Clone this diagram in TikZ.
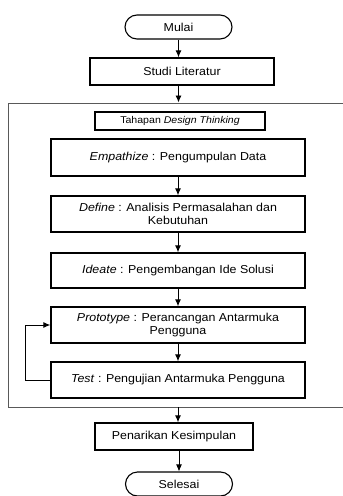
\documentclass[tikz,border=0pt]{standalone}
\usepackage{fontspec}
\setmainfont{Liberation Sans}[FakeStretch=1.08]
\usepackage{tikz}
\usetikzlibrary{arrows.meta}

\begin{document}
\begin{tikzpicture}[x=1pt, y=-1pt,
	every node/.style={font=\fontsize{11.5}{12.5}\selectfont},
	terminal/.style={draw, line width=1.1pt, rounded corners=12pt, minimum width=107pt, minimum height=24pt},
	proses/.style={draw, line width=1.4pt, minimum width=254pt, minimum height=36pt, align=center, inner sep=1pt},
	panah/.style={-{Latex[length=7pt,width=6pt]}, line width=0.9pt}
]
\clip (0,0) rectangle (343,496);
\node[terminal] (mulai) at (178.5,27) {Mulai};
\node[proses, minimum width=184pt, minimum height=27pt] (studi) at (182,71.5) {Studi Literatur};
\node[draw=black!65, line width=0.9pt, minimum width=352pt, minimum height=304pt, anchor=north west] (fase) at (8,102.5) {};
\node[draw, line width=1.1pt, minimum width=170pt, minimum height=18pt, font=\fontsize{9.8}{11}\selectfont] (judul) at (180,121) {Tahapan \textit{Design Thinking}};
\node[proses, minimum height=37pt] (empathize) at (178,157.5) {\textit{Empathize} : Pengumpulan Data};
\node[proses] (define) at (178,214) {\textit{Define} : Analisis Permasalahan dan\\Kebutuhan};
\node[proses, minimum height=35pt] (ideate) at (178,270.5) {\textit{Ideate} : Pengembangan Ide Solusi};
\node[proses] (prototype) at (178,325) {\textit{Prototype} : Perancangan Antarmuka\\Pengguna};
\node[proses] (test) at (178,380) {\textit{Test} : Pengujian Antarmuka Pengguna};
\node[proses, minimum width=158pt, minimum height=27pt] (kesimpulan) at (174,436.5) {Penarikan Kesimpulan};
\node[terminal] (selesai) at (179,484) {Selesai};

\path[panah]
(mulai.south) edge (mulai.south |- studi.north)
(studi.south -| mulai) edge (mulai |- fase.north)
(empathize) edge (define)
(define) edge (ideate)
(ideate) edge (prototype)
(prototype) edge (test)
(fase.south -| empathize) edge (empathize |- kesimpulan.north)
(kesimpulan.south -| selesai) edge (selesai)
;
\draw[panah] (test.west) -- ++(-25,0) |- (prototype.west);
\end{tikzpicture}
\end{document}
